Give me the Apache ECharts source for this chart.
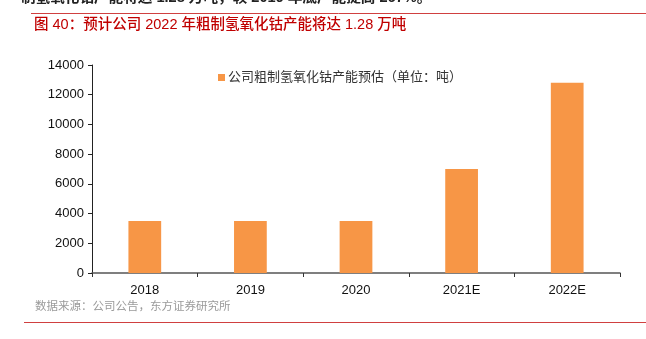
<!DOCTYPE html>
<html>
<head>
<meta charset="utf-8">
<script src="https://cdn.jsdelivr.net/npm/echarts@6/dist/echarts.min.js"></script>
<style>
  html, body { margin: 0; padding: 0; background: #fff; }
  #chart { width: 646px; height: 339px; }
</style>
</head>
<body>
<div id="chart"></div>
<script>
// Categories and capacity estimates (tonnes)
const years = ['2018', '2019', '2020', '2021E', '2022E'];
const capacity = [3500, 3500, 3500, 7000, 12800];
const seriesName = '公司粗制氢氧化钴产能预估（单位：吨）';

const titleText = '图 40：预计公司 2022 年粗制氢氧化钴产能将达 1.28 万吨';
const leadText = '制氢氧化钴产能将达 1.28 万吨，较 2019 年底产能提高 267%。';
const sourceText = '数据来源：公司公告，东方证券研究所';

const cjk = '"Liberation Sans", "Noto Sans CJK SC", sans-serif';
const red = '#c00000';
const ruleRed = '#d04040';

const chart = echarts.init(document.getElementById('chart'), null, { renderer: 'canvas' });

chart.setOption({
  animation: false,
  backgroundColor: '#fff',
  textStyle: { fontFamily: cjk },
  grid: { left: 92, right: 26, top: 65, bottom: 66, containLabel: false },
  legend: {
    data: [seriesName],
    left: 213,
    top: 66,
    icon: 'rect',
    itemWidth: 7,
    itemHeight: 7,
    itemGap: 4,
    textStyle: { fontSize: 13, color: '#333', fontFamily: cjk, padding: [0, 0, 0, -2] }
  },
  xAxis: {
    type: 'category',
    data: years,
    boundaryGap: true,
    axisLine: { lineStyle: { color: '#555', width: 1.5 } },
    axisTick: { show: true, alignWithLabel: false, length: 4, lineStyle: { color: '#333' } },
    axisLabel: { fontSize: 13, color: '#111', margin: 11, fontFamily: cjk },
    splitLine: { show: false }
  },
  yAxis: {
    type: 'value',
    min: 0,
    max: 14000,
    interval: 2000,
    axisLine: { show: true, lineStyle: { color: '#222', width: 1 } },
    axisTick: { show: true, length: 4, lineStyle: { color: '#222' } },
    axisLabel: { fontSize: 13, color: '#111', margin: 8, fontFamily: cjk, formatter: v => String(v) },
    splitLine: { show: false }
  },
  series: [{
    name: seriesName,
    type: 'bar',
    data: capacity,
    barWidth: '31%',
    itemStyle: { color: '#F79646' }
  }],
  graphic: [
    {
      type: 'text', left: 21, top: -9,
      style: { text: leadText, font: 'bold 14.6px ' + cjk, fill: '#222' }
    },
    {
      type: 'line', shape: { x1: 31, y1: 13.5, x2: 646, y2: 13.5 },
      style: { stroke: ruleRed, lineWidth: 1 }
    },
    {
      type: 'text', left: 34, top: 18,
      style: { text: titleText, font: '500 14.5px ' + cjk, fill: red }
    },
    {
      type: 'text', left: 35, top: 301,
      style: { text: sourceText, font: '11.5px ' + cjk, fill: '#9a9a9a' }
    },
    {
      type: 'line', shape: { x1: 24, y1: 322.5, x2: 646, y2: 322.5 },
      style: { stroke: ruleRed, lineWidth: 1 }
    }
  ]
});
</script>
</body>
</html>
